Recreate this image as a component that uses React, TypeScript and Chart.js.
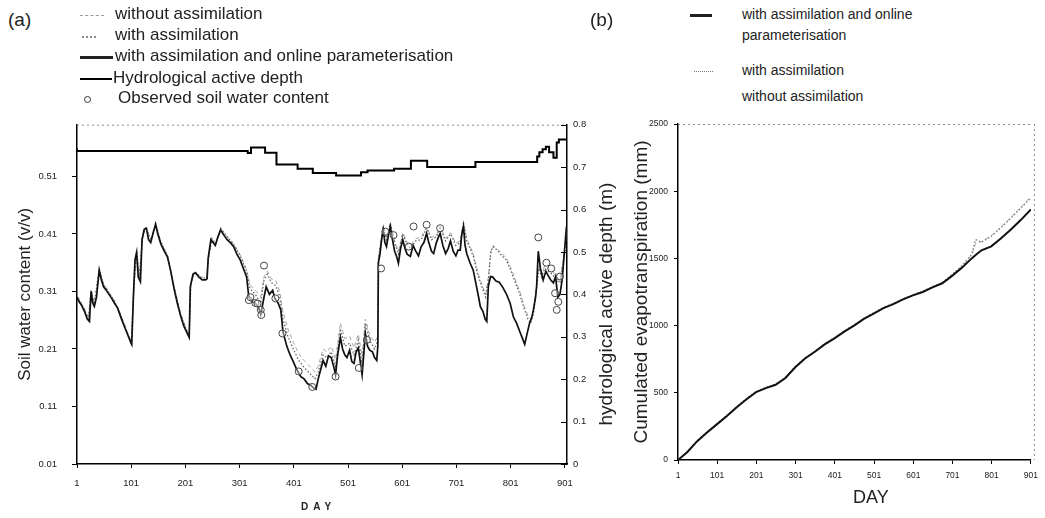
import React, { useEffect, useRef } from 'react';
import { Chart, registerables } from 'chart.js';
Chart.register(...registerables);

const FONT = "'Liberation Sans', Arial, Helvetica, sans-serif";

// ---------- Panel (a) data ----------
const dayTicks = [1, 101, 201, 301, 401, 501, 601, 701, 801, 901];
const swcTicks = [0.01, 0.11, 0.21, 0.31, 0.41, 0.51];
const depthTicks = [0, 0.1, 0.2, 0.3, 0.4, 0.5, 0.6, 0.7, 0.8];

// [day, soil water content] with assimilation and online parameterisation
const swcOnline: [number, number][] = [
  [1,.300],[5,.292],[10,.285],[15,.275],[20,.262],[24,.258],[27,.310],[30,.290],[33,.284],[37,.300],[42,.347],[46,.330],[50,.318],[55,.312],[60,.305],[65,.298],[70,.290],[76,.281],[82,.265],[88,.250],[94,.236],[100,.222],[102,.218],[105,.300],[108,.365],[111,.378],[114,.335],[118,.327],[121,.400],[125,.418],[129,.420],[133,.400],[137,.395],[141,.410],[146,.427],[150,.410],[156,.392],[162,.380],[168,.370],[174,.345],[180,.315],[186,.290],[192,.268],[198,.250],[204,.238],[208,.230],[210,.318],[215,.340],[220,.342],[226,.335],[232,.330],[238,.330],[241,.332],[243,.368],[248,.400],[252,.395],[256,.390],[261,.405],[266,.417],[272,.408],[278,.400],[284,.395],[290,.388],[296,.375],[302,.365],[308,.350],[314,.335],[318,.300],[324,.292],[330,.290],[336,.282],[340,.270],[346,.300],[350,.318],[356,.305],[362,.312],[366,.298],[372,.290],[377,.278],[381,.240],[388,.215],[394,.200],[400,.188],[407,.173],[414,.162],[420,.158],[426,.150],[432,.147],[438,.142],[442,.140],[446,.158],[450,.172],[455,.190],[460,.180],[465,.198],[470,.195],[475,.178],[478,.165],[482,.200],[487,.230],[491,.210],[495,.200],[499,.195],[504,.208],[508,.188],[512,.185],[516,.205],[520,.212],[524,.185],[527,.165],[530,.200],[533,.237],[537,.215],[541,.208],[546,.205],[550,.195],[554,.190],[556,.215],[557,.360],[560,.375],[563,.400],[566,.417],[569,.395],[572,.388],[575,.405],[579,.423],[583,.400],[587,.380],[591,.370],[594,.359],[598,.385],[602,.400],[606,.385],[610,.375],[616,.371],[621,.390],[626,.380],[631,.372],[636,.388],[641,.395],[646,.411],[650,.395],[655,.380],[659,.376],[664,.395],[668,.405],[671,.411],[676,.390],[681,.376],[686,.385],[690,.398],[695,.380],[700,.372],[704,.382],[708,.382],[711,.410],[714,.423],[717,.390],[720,.376],[726,.360],[732,.347],[738,.319],[742,.300],[745,.284],[750,.275],[754,.262],[757,.258],[760,.320],[764,.336],[768,.335],[774,.328],[780,.326],[786,.318],[793,.306],[800,.290],[806,.266],[812,.255],[818,.240],[823,.228],[827,.218],[831,.235],[836,.255],[840,.265],[843,.278],[847,.300],[849,.320],[852,.380],[856,.350],[861,.330],[866,.345],[870,.338],[875,.330],[880,.325],[884,.336],[888,.300],[892,.305],[896,.330],[900,.376],[904,.423]
];

// [day, soil water content] with assimilation
const swcWith: [number, number][] = [
  [1,.302],[8,.290],[15,.278],[22,.262],[27,.312],[33,.288],[42,.350],[50,.322],[60,.308],[70,.293],[80,.272],[90,.248],[101,.220],[106,.320],[111,.380],[116,.335],[122,.405],[128,.422],[137,.400],[146,.428],[156,.395],[168,.372],[180,.318],[192,.270],[204,.240],[208,.232],[211,.322],[218,.345],[230,.334],[240,.333],[244,.370],[250,.402],[257,.392],[266,.420],[278,.405],[290,.392],[302,.372],[314,.345],[320,.315],[330,.305],[340,.290],[346,.330],[352,.340],[360,.325],[368,.320],[375,.300],[381,.262],[390,.232],[400,.210],[410,.190],[420,.178],[430,.168],[440,.158],[446,.170],[455,.200],[462,.195],[470,.205],[478,.180],[487,.245],[495,.215],[504,.220],[512,.200],[520,.225],[527,.185],[533,.255],[541,.225],[550,.210],[556,.225],[557,.365],[563,.405],[566,.422],[572,.400],[579,.428],[587,.395],[594,.375],[602,.410],[610,.392],[616,.385],[626,.398],[636,.400],[646,.420],[655,.400],[664,.405],[671,.420],[681,.398],[690,.410],[700,.390],[708,.395],[714,.428],[720,.398],[732,.372],[740,.340],[748,.318],[755,.300],[760,.330],[764,.375],[768,.388],[776,.382],[785,.372],[793,.365],[802,.345],[810,.325],[818,.305],[826,.280],[833,.262],[838,.255],[843,.270],[849,.315],[853,.350],[858,.335],[864,.350],[870,.345],[878,.340],[885,.330],[892,.325],[898,.360],[904,.410]
];

// [day, soil water content] without assimilation
const swcWithout: [number, number][] = [
  [1,.303],[8,.292],[15,.280],[22,.264],[27,.313],[33,.290],[42,.348],[50,.324],[60,.309],[70,.294],[80,.273],[90,.250],[101,.222],[106,.318],[111,.379],[116,.336],[122,.404],[128,.421],[137,.401],[146,.427],[156,.396],[168,.373],[180,.320],[192,.272],[204,.242],[208,.234],[211,.321],[218,.344],[230,.335],[240,.334],[244,.369],[250,.401],[257,.393],[266,.419],[278,.406],[290,.393],[302,.374],[314,.348],[320,.322],[330,.312],[340,.300],[346,.336],[352,.345],[360,.332],[368,.328],[375,.310],[381,.275],[390,.245],[400,.222],[410,.202],[420,.190],[430,.180],[440,.170],[446,.180],[455,.210],[462,.205],[470,.215],[478,.192],[487,.255],[495,.228],[504,.232],[512,.212],[520,.236],[527,.198],[533,.262],[541,.235],[550,.222],[556,.232],[557,.368],[563,.408],[566,.425],[572,.404],[579,.430],[587,.398],[594,.380],[602,.412],[610,.395],[616,.390],[626,.402],[636,.404],[646,.422],[655,.404],[664,.408],[671,.423],[681,.402],[690,.412],[700,.394],[708,.398],[714,.430],[720,.402],[732,.376],[740,.345],[748,.322],[755,.305],[760,.335],[764,.378],[768,.390],[776,.385],[785,.376],[793,.368],[802,.350],[810,.330],[818,.310],[826,.285],[833,.268],[838,.262],[843,.276],[849,.320],[853,.355],[858,.340],[864,.355],[870,.350],[878,.345],[885,.336],[892,.330],[898,.365],[904,.415]
];

// [start day, hydrological active depth (m)]
const depthSteps: [number, number][] = [
  [1,.744],[316,.738],[322,.733],[348,.746],[369,.734],[408,.706],[436,.696],[479,.686],[525,.680],[537,.688],[586,.692],[617,.696],[647,.715],[736,.700],[850,.712],[854,.725],[860,.735],[866,.742],[872,.748],[880,.735],[886,.722],[890,.758],[896,.765],[905,.765]
];

// [day, observed soil water content]
const observed: [number, number][] = [
  [318,.295],[321,.300],[330,.290],[334,.289],[340,.278],[341,.269],[346,.355],[367,.298],[380,.237],[410,.171],[435,.144],[478,.162],[521,.177],[536,.226],[562,.350],[570,.414],[585,.408],[613,.388],[622,.423],[646,.426],[671,.420],[852,.404],[867,.360],[876,.350],[883,.307],[886,.278],[889,.292],[892,.336]
];

// ---------- Panel (b) data ----------
const etTicks = [0, 500, 1000, 1500, 2000, 2500];
const etDays = [1,25,50,75,100,125,150,175,200,225,250,275,300,325,350,375,400,425,450,475,500,525,550,575,600,625,650,675,700,725,750,760,775,800,825,850,875,901];
const etOnline = [0,60,140,205,265,325,390,450,505,535,560,610,690,755,805,860,905,955,1000,1050,1090,1130,1160,1195,1225,1250,1285,1315,1370,1430,1500,1525,1560,1590,1650,1715,1785,1865];
const etWith = [0,62,145,210,270,330,395,455,510,540,565,615,695,760,810,865,910,960,1005,1055,1095,1135,1165,1200,1230,1255,1290,1320,1380,1445,1530,1640,1620,1665,1730,1800,1875,1950];
const etWithout = [0,60,142,208,268,328,392,452,508,538,563,612,692,758,808,862,908,958,1003,1052,1092,1132,1162,1198,1228,1254,1288,1318,1378,1442,1525,1610,1625,1670,1735,1805,1880,1960];

const toXY = (pairs: [number, number][]) => pairs.map(([x, y]) => ({ x, y }));
const zipXY = (xs: number[], ys: number[]) => xs.map((x, i) => ({ x, y: ys[i] }));

function framePlugin(id: string, rightDotted: boolean, innerTickScale?: string) {
  return {
    id,
    afterDraw(chart: any) {
      const { ctx, chartArea: a } = chart;
      ctx.save();
      ctx.strokeStyle = '#8a8a8a';
      ctx.lineWidth = 1;
      ctx.setLineDash([2, 3]);
      ctx.beginPath();
      ctx.moveTo(a.left, a.top + 0.5);
      ctx.lineTo(a.right, a.top + 0.5);
      if (rightDotted) {
        ctx.moveTo(a.right + 3.5, a.top);
        ctx.lineTo(a.right + 3.5, a.bottom);
      }
      ctx.stroke();
      ctx.setLineDash([]);
      if (innerTickScale) {
        const s = chart.scales[innerTickScale];
        ctx.strokeStyle = '#000';
        ctx.beginPath();
        s.ticks.forEach((t: any) => {
          const y = Math.round(s.getPixelForValue(t.value)) + 0.5;
          ctx.moveTo(a.right - 6, y);
          ctx.lineTo(a.right, y);
        });
        ctx.stroke();
      }
      ctx.restore();
    },
  };
}

const tickFont = (size: number) => ({ family: FONT, size });

export default function App() {
  const refA = useRef<HTMLCanvasElement>(null);
  const refB = useRef<HTMLCanvasElement>(null);

  useEffect(() => {
    const chartA = new Chart(refA.current as HTMLCanvasElement, {
      type: 'line',
      data: {
        datasets: [
          { label: 'without assimilation', data: toXY(swcWithout), borderColor: '#a5a5a5', borderWidth: 1, borderDash: [4, 3], pointRadius: 0, yAxisID: 'y', order: 4 },
          { label: 'with assimilation', data: toXY(swcWith), borderColor: '#666', borderWidth: 1.3, borderDash: [1.5, 2], pointRadius: 0, yAxisID: 'y', order: 3 },
          { label: 'with assimilation and online parameterisation', data: toXY(swcOnline), borderColor: '#111', borderWidth: 1.7, pointRadius: 0, yAxisID: 'y', order: 1 },
          { label: 'Hydrological active depth', data: toXY(depthSteps), borderColor: '#000', borderWidth: 2, stepped: 'after', pointRadius: 0, yAxisID: 'y2', order: 2 },
          { label: 'Observed soil water content', data: toXY(observed), showLine: false, pointRadius: 3.5, pointBorderColor: '#444', pointBackgroundColor: 'rgba(255,255,255,0.4)', pointBorderWidth: 1, yAxisID: 'y', order: 0 },
        ] as any,
      },
      options: {
        responsive: false,
        animation: false,
        devicePixelRatio: 1,
        layout: { padding: { top: 0, left: 0, right: 0, bottom: 0 } },
        plugins: { legend: { display: false }, tooltip: { enabled: false } },
        elements: { line: { tension: 0 } },
        scales: {
          x: {
            type: 'linear', min: 1, max: 905,
            afterBuildTicks: (s: any) => { s.ticks = dayTicks.map((v) => ({ value: v })); },
            afterFit: (s: any) => { s.height = 54; },
            grid: { drawOnChartArea: false, tickLength: 4, color: '#000' },
            border: { color: '#000', width: 1.5 },
            ticks: { font: tickFont(9.5), color: '#222', padding: 10, maxRotation: 0, autoSkip: false },
          },
          y: {
            type: 'linear', position: 'left', min: 0.01, max: 0.6,
            afterBuildTicks: (s: any) => { s.ticks = swcTicks.map((v) => ({ value: v })); },
            afterFit: (s: any) => { s.width = 77; },
            grid: { drawOnChartArea: false, tickLength: 5, color: '#000' },
            border: { color: '#000', width: 1.5 },
            ticks: { font: tickFont(9.5), color: '#222', padding: 15, callback: (v: any) => Number(v).toFixed(2) },
            title: { display: true, text: 'Soil water content (v/v)', font: { family: FONT, size: 17 }, color: '#222', padding: { top: 15, bottom: 0 } },
          },
          y2: {
            type: 'linear', position: 'right', min: 0, max: 0.8,
            afterBuildTicks: (s: any) => { s.ticks = depthTicks.map((v) => ({ value: v })); },
            afterFit: (s: any) => { s.width = 53; },
            grid: { drawOnChartArea: false, drawTicks: false },
            border: { color: '#000', width: 1.5 },
            ticks: { font: tickFont(9.5), color: '#222', padding: 6, callback: (v: any) => (Number(v) === 0 ? '0' : Number(v).toFixed(1)) },
          },
        },
      } as any,
      plugins: [framePlugin('frameA', false, 'y2')],
    });

    const chartB = new Chart(refB.current as HTMLCanvasElement, {
      type: 'line',
      data: {
        datasets: [
          { label: 'without assimilation', data: zipXY(etDays, etWithout), borderColor: '#b0b0b0', borderWidth: 1, borderDash: [4, 3], pointRadius: 0, order: 3 },
          { label: 'with assimilation', data: zipXY(etDays, etWith), borderColor: '#777', borderWidth: 1.3, borderDash: [1.5, 2], pointRadius: 0, order: 2 },
          { label: 'with assimilation and online parameterisation', data: zipXY(etDays, etOnline), borderColor: '#111', borderWidth: 2, pointRadius: 0, order: 1 },
        ] as any,
      },
      options: {
        responsive: false,
        animation: false,
        devicePixelRatio: 1,
        layout: { padding: { top: 14, left: 0, right: 13, bottom: 0 } },
        plugins: { legend: { display: false }, tooltip: { enabled: false } },
        elements: { line: { tension: 0 } },
        scales: {
          x: {
            type: 'linear', min: 1, max: 901,
            afterBuildTicks: (s: any) => { s.ticks = dayTicks.map((v) => ({ value: v })); },
            afterFit: (s: any) => { s.height = 58; },
            grid: { drawOnChartArea: false, tickLength: 4, color: '#000' },
            border: { color: '#000', width: 1.5 },
            ticks: { font: tickFont(8.5), color: '#222', padding: 7, maxRotation: 0, autoSkip: false },
          },
          y: {
            type: 'linear', position: 'left', min: 0, max: 2500,
            afterBuildTicks: (s: any) => { s.ticks = etTicks.map((v) => ({ value: v })); },
            afterFit: (s: any) => { s.width = 58; },
            grid: { drawOnChartArea: false, tickLength: 4, color: '#000' },
            border: { color: '#000', width: 1.5 },
            ticks: { font: tickFont(8.5), color: '#222', padding: 6, callback: (v: any) => String(v) },
            title: { display: true, text: 'Cumulated evapotranspiration (mm)', font: { family: FONT, size: 19 }, color: '#222', padding: { top: 10, bottom: 0 } },
          },
        },
      } as any,
      plugins: [framePlugin('frameB', true)],
    });

    return () => { chartA.destroy(); chartB.destroy(); };
  }, []);

  const txt = (left: number, cy: number, size: number, text: string, extra: any = {}) => (
    <div style={{ position: 'absolute', left, top: cy - Math.round(size * 0.62), fontSize: size, lineHeight: `${Math.round(size * 1.2)}px`, whiteSpace: 'nowrap', ...extra }}>{text}</div>
  );

  return (
    <div style={{ position: 'fixed', left: 0, top: 0, width: 1045, height: 518, background: '#fff', fontFamily: FONT, color: '#222', overflow: 'hidden' }}>
      <canvas ref={refA} width={620} height={414} style={{ position: 'absolute', left: 0, top: 104, width: 620, height: 414 }} />
      <canvas ref={refB} width={425} height={408} style={{ position: 'absolute', left: 620, top: 110, width: 425, height: 408 }} />

      {/* Panel (a) legend */}
      {txt(8, 20, 19, '(a)')}
      <div style={{ position: 'absolute', left: 80, top: 15, width: 24, borderTop: '1px dashed #999' }} />
      {txt(115, 15, 17, 'without assimilation')}
      <div style={{ position: 'absolute', left: 82, top: 36, width: 14, borderTop: '2px dotted #888' }} />
      {txt(115, 36, 17, 'with assimilation')}
      <div style={{ position: 'absolute', left: 80, top: 56, width: 33, borderTop: '3px solid #222' }} />
      {txt(115, 57, 17, 'with assimilation and online parameterisation')}
      <div style={{ position: 'absolute', left: 80, top: 78, width: 32, borderTop: '2px solid #000' }} />
      {txt(113, 79, 17, 'Hydrological active depth')}
      <div style={{ position: 'absolute', left: 84, top: 96, width: 5, height: 5, borderRadius: '50%', border: '1.5px solid #333' }} />
      {txt(118, 99, 17, 'Observed soil water content')}

      {/* right axis title of panel (a) */}
      <div style={{ position: 'absolute', left: 606, top: 304, transform: 'translate(-50%, -50%) rotate(-90deg)', fontSize: 19, whiteSpace: 'nowrap', lineHeight: '22px' }}>hydrological active depth (m)</div>
      {txt(301, 507, 10, 'DAY', { fontWeight: 'bold', letterSpacing: '5px' })}

      {/* Panel (b) legend */}
      {txt(590, 20, 19, '(b)')}
      <div style={{ position: 'absolute', left: 690, top: 14, width: 22, borderTop: '3px solid #222' }} />
      {txt(742, 15, 14, 'with assimilation and online')}
      {txt(742, 36, 14, 'parameterisation')}
      <div style={{ position: 'absolute', left: 694, top: 71, width: 19, borderTop: '1px dotted #777' }} />
      {txt(742, 71, 14, 'with assimilation')}
      {txt(742, 97, 14, 'without assimilation')}
      {txt(853, 497, 18, 'DAY')}
    </div>
  );
}
